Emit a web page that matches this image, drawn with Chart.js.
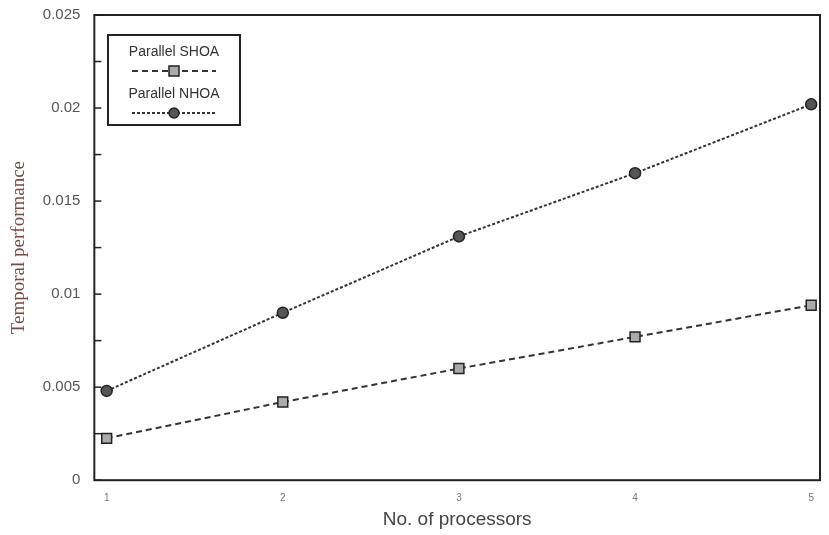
<!DOCTYPE html>
<html>
<head>
<meta charset="utf-8">
<script src="https://cdn.jsdelivr.net/npm/chart.js@4"></script>
<style>
  html, body { margin: 0; padding: 0; background: #fff; }
  #wrap { width: 829px; height: 535px; position: relative; }
</style>
</head>
<body>
<div id="wrap"><canvas id="perfChart" width="829" height="535"></canvas></div>
<script>
// chart data
const processors = [1, 2, 3, 4, 5];
const shoaValues = [0.00225, 0.0042, 0.0060, 0.0077, 0.0094];
const nhoaValues = [0.0048, 0.0090, 0.0131, 0.0165, 0.0202];
const yTickLabels = ['0', '0.005', '0.01', '0.015', '0.02', '0.025'];

// frame, inward ticks and boxed legend
const framePlugin = {
  id: 'frame',
  afterDraw(chart) {
    const ctx = chart.ctx;
    const a = chart.chartArea;
    const y = chart.scales.y;
    ctx.save();
    ctx.strokeStyle = '#222';
    ctx.lineWidth = 2;
    ctx.strokeRect(a.left, a.top, a.right - a.left, a.bottom - a.top);
    ctx.lineWidth = 1.5;
    y.ticks.forEach(t => {
      const py = y.getPixelForValue(t.value);
      ctx.beginPath();
      ctx.moveTo(a.left, py);
      ctx.lineTo(a.left + 7, py);
      ctx.stroke();
    });

    // legend box
    const bx = 108, by = 35, bw = 132, bh = 90;
    ctx.lineWidth = 2;
    ctx.strokeStyle = '#222';
    ctx.strokeRect(bx, by, bw, bh);
    ctx.font = '14px "Liberation Sans", Arial, sans-serif';
    ctx.fillStyle = '#333';
    ctx.textAlign = 'center';
    ctx.textBaseline = 'middle';
    chart.data.datasets.forEach((ds, i) => {
      const cx = bx + bw / 2;
      const ty = by + 17 + i * 42;
      const ly = ty + 19;
      ctx.fillText(ds.label, cx, ty);
      ctx.beginPath();
      ctx.setLineDash(ds.borderDash);
      ctx.lineWidth = ds.borderWidth;
      ctx.strokeStyle = ds.borderColor;
      ctx.moveTo(cx - 42, ly);
      ctx.lineTo(cx + 42, ly);
      ctx.stroke();
      ctx.setLineDash([]);
      ctx.fillStyle = ds.pointBackgroundColor;
      ctx.strokeStyle = ds.pointBorderColor;
      ctx.lineWidth = 1.5;
      if (ds.pointStyle === 'rect') {
        ctx.fillRect(cx - 5, ly - 5, 10, 10);
        ctx.strokeRect(cx - 5, ly - 5, 10, 10);
      } else {
        ctx.beginPath();
        ctx.arc(cx, ly, 5, 0, Math.PI * 2);
        ctx.fill();
        ctx.stroke();
      }
      ctx.fillStyle = '#333';
    });
    ctx.restore();
  }
};

const ctx = document.getElementById('perfChart').getContext('2d');
new Chart(ctx, {
  type: 'line',
  data: {
    labels: processors,
    datasets: [{
      label: 'Parallel SHOA',
      data: processors.map((p, i) => ({ x: p, y: shoaValues[i] })),
      borderColor: '#333',
      borderWidth: 2,
      borderDash: [6, 4],
      pointStyle: 'rect',
      pointRadius: 7,
      pointBackgroundColor: '#aaa',
      pointBorderColor: '#222',
      pointBorderWidth: 1.5,
      tension: 0
    }, {
      label: 'Parallel NHOA',
      data: processors.map((p, i) => ({ x: p, y: nhoaValues[i] })),
      borderColor: '#333',
      borderWidth: 2,
      borderDash: [3, 2],
      pointStyle: 'circle',
      pointRadius: 5.5,
      pointBackgroundColor: '#555',
      pointBorderColor: '#222',
      pointBorderWidth: 1.5,
      tension: 0
    }]
  },
  options: {
    responsive: false,
    animation: false,
    layout: { padding: { top: 4, right: 9, left: 8, bottom: 0 } },
    plugins: { legend: { display: false }, tooltip: { enabled: false } },
    scales: {
      x: {
        type: 'linear',
        min: 0.93,
        max: 5.05,
        afterBuildTicks: axis => { axis.ticks = processors.map(v => ({ value: v })); },
        grid: { display: false },
        border: { display: false },
        ticks: {
          color: '#777',
          font: { family: '"Liberation Sans", Arial, sans-serif', size: 10 },
          padding: 4
        },
        title: {
          display: true,
          text: 'No. of processors',
          color: '#444',
          font: { family: '"Liberation Sans", Arial, sans-serif', size: 19 },
          padding: { top: 0, bottom: 4 }
        }
      },
      y: {
        min: 0,
        max: 0.025,
        grid: { display: false },
        border: { display: false },
        ticks: {
          stepSize: 0.0025,
          color: '#555',
          font: { family: '"Liberation Sans", Arial, sans-serif', size: 15 },
          padding: 6,
          callback: (v, i) => (i % 2 === 0 ? yTickLabels[i / 2] : '')
        },
        title: {
          display: true,
          text: 'Temporal performance',
          color: '#7a4a3c',
          font: { family: '"Liberation Serif", "Times New Roman", serif', size: 19 },
          padding: { top: 0, bottom: 6 }
        }
      }
    }
  },
  plugins: [framePlugin]
});
</script>
</body>
</html>
